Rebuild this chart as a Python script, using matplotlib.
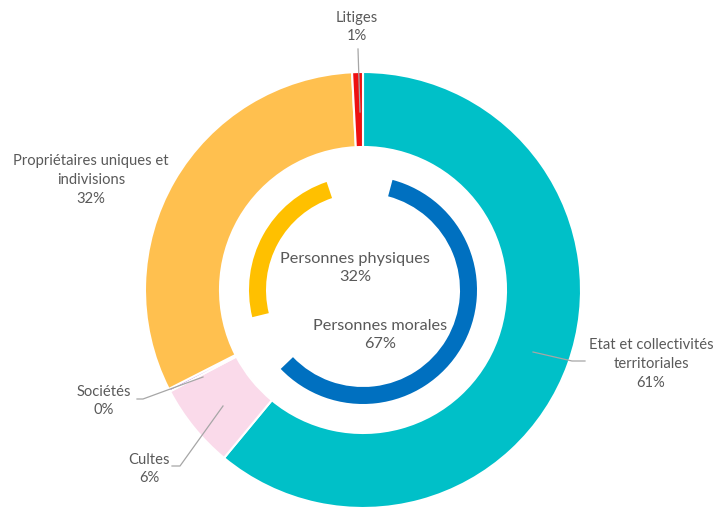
import matplotlib.pyplot as plt

plt.rcParams['font.family'] = ['Lato', 'DejaVu Sans']

# anneau exterieur
cat_ext = ["Etat et collectivités\nterritoriales", "Cultes", "Sociétés",
           "Propriétaires uniques et\nindivisions", "Litiges"]
val_ext = [61.0, 6.3, 0.2, 31.7, 0.8]
pct_ext = ["61%", "6%", "0%", "32%", "1%"]
col_ext = ["#00C0C8", "#FADAEA", "#9B59D0", "#FFC04F", "#EE1111"]

# anneau interieur
cat_int = ["Personnes morales", "Personnes physiques", ""]
val_int = [67, 32, 1]
pct_int = ["67%", "32%", ""]
col_int = ["#0070C0", "#FFC000", "none"]

W, H = 722, 510
CX, CY, R = 363, 291, 218


def px(x, y):
    # pixels (depuis le haut a gauche) -> coordonnees du graphique
    return (x - CX) / R, (CY - y) / R


fig = plt.figure(figsize=(W / 100, H / 100), dpi=100)
ax = fig.add_axes([0, 0, 1, 1])

ax.pie(val_ext, colors=col_ext, startangle=90, counterclock=False, radius=1.0,
       wedgeprops=dict(width=75 / R, edgecolor='white', linewidth=1.5))

wedges, _ = ax.pie(val_int, colors=col_int, startangle=90, counterclock=False,
                   radius=114 / R, wedgeprops=dict(width=17 / R, linewidth=0))
gap = 15
for w in wedges:
    w.set_theta1(w.theta1 + gap)
    w.set_theta2(w.theta2 - gap)

ax.set_xlim(-CX / R, (W - CX) / R)
ax.set_ylim(-(H - CY) / R, CY / R)
ax.set_aspect('equal')
ax.axis('off')

gris = "#595959"
trait = "#A6A6A6"

# etiquettes exterieures : (x, y) du texte, points de la ligne de rappel
pos_ext = [(651, 364), (149, 469), (104, 401), (91, 180), (357, 27)]
lignes = [
    [(585, 362), (572, 362), (533, 353)],
    [(172, 467), (180, 467), (223, 407)],
    [(137, 400), (143, 400), (203, 378)],
    None,
    [(358, 50), (360, 113)],
]
for c, p, (x, y), lg in zip(cat_ext, pct_ext, pos_ext, lignes):
    ax.text(*px(x, y), c + "\n" + p, ha='center', va='center', fontsize=10.6,
            color=gris, linespacing=1.45, multialignment='center')
    if lg:
        xs, ys = zip(*[px(a, b) for a, b in lg])
        ax.plot(xs, ys, color=trait, lw=0.9)

pos_int = [(380, 335), (355, 268)]
for c, p, (x, y) in zip(cat_int[:2], pct_int[:2], pos_int):
    ax.text(*px(x, y), c + "\n" + p, ha='center', va='center', fontsize=11.7,
            color=gris, linespacing=1.4, multialignment='center')

fig.savefig("out.png", dpi=100)
